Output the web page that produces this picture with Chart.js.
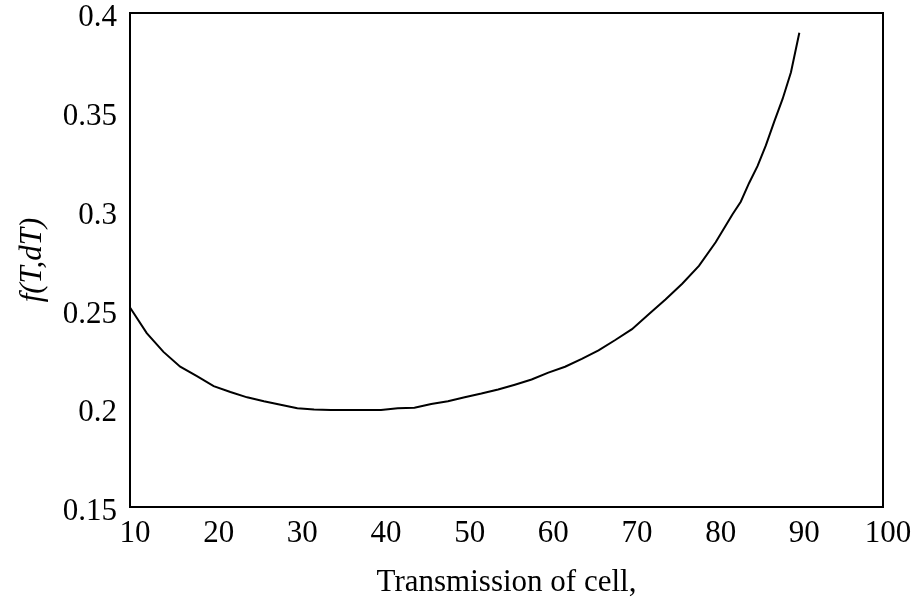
<!DOCTYPE html>
<html>
<head>
<meta charset="utf-8">
<script src="https://cdn.jsdelivr.net/npm/chart.js@4/dist/chart.umd.min.js"></script>
<style>
  html, body { margin: 0; padding: 0; background: #fff; }
  #wrap { width: 918px; height: 603px; }
</style>
</head>
<body>
<div id="wrap"><canvas id="chart" width="918" height="603"></canvas></div>
<script>
// transmission (%) and f(T,dT)
const transmission = [10, 12, 14, 16, 18, 20, 22, 24, 26, 28, 30, 32, 34, 36, 38, 40, 42, 44, 46, 48,
  50, 52, 54, 56, 58, 60, 62, 64, 66, 68, 70, 72, 74, 76, 78, 80, 82, 83, 84, 85, 86, 87, 88, 89, 90];
const fValues = [0.251, 0.238, 0.2285, 0.221, 0.2162, 0.2112, 0.2082, 0.2055, 0.2035, 0.2017,
  0.2000, 0.1994, 0.1991, 0.1991, 0.1991, 0.1991, 0.2000, 0.2002, 0.2021, 0.2035,
  0.2055, 0.2074, 0.2095, 0.2119, 0.2145, 0.2180, 0.2210, 0.2250, 0.2293, 0.2345,
  0.2400, 0.2475, 0.2550, 0.2630, 0.2720, 0.2840, 0.2980, 0.3045, 0.3140, 0.3225,
  0.3330, 0.3450, 0.3565, 0.3700, 0.3900];
const xTicks = [10, 20, 30, 40, 50, 60, 70, 80, 90, 100];
const yTicks = [0.15, 0.2, 0.25, 0.3, 0.35, 0.4];

const points = transmission.map((t, i) => ({ x: t, y: fValues[i] }));

// box around the plot area
const frame = {
  id: "frame",
  afterDraw(chart) {
    const { ctx, chartArea: a } = chart;
    ctx.save();
    ctx.strokeStyle = "#000";
    ctx.lineWidth = 2;
    ctx.strokeRect(a.left, a.top, a.right - a.left, a.bottom - a.top);
    ctx.restore();
  },
};

Chart.defaults.font.family = "'Liberation Serif', 'Times New Roman', serif";
Chart.defaults.color = "#000";

new Chart(document.getElementById("chart"), {
  type: "scatter",
  data: {
    datasets: [
      {
        data: points,
        showLine: true,
        borderColor: "#000",
        borderWidth: 2,
        pointRadius: 0,
        tension: 0,
      },
    ],
  },
  options: {
    responsive: false,
    animation: false,
    layout: { padding: { top: 13, right: 35, left: 0, bottom: 0 } },
    plugins: { legend: { display: false }, tooltip: { enabled: false } },
    scales: {
      x: {
        type: "linear",
        min: 10,
        max: 100,
        afterBuildTicks: (s) => { s.ticks = xTicks.map((v) => ({ value: v })); },
        afterFit: (s) => { s.height = 96; },
        grid: { display: false, drawTicks: false },
        border: { display: false },
        ticks: { font: { size: 31 }, padding: 8, labelOffset: 5, maxRotation: 0 },
        title: {
          display: true,
          text: "Transmission of cell,",
          font: { size: 31 },
          padding: { top: 0, bottom: 2 },
        },
      },
      y: {
        min: 0.15,
        max: 0.4,
        afterBuildTicks: (s) => { s.ticks = yTicks.map((v) => ({ value: v })); },
        afterFit: (s) => {
          s.width = 130;
          // no extra room for the end labels, plot top sits at the padding
          s.paddingTop = 0;
          s.paddingBottom = 0;
        },
        grid: { display: false, drawTicks: false },
        border: { display: false },
        ticks: {
          font: { size: 31 },
          padding: 13,
          labelOffset: 5,
          callback: (v) => String(Math.round(v * 100) / 100),
        },
        title: {
          display: true,
          text: "f(T,dT)",
          font: { size: 31, style: "italic" },
          padding: { top: 14, bottom: 0 },
        },
      },
    },
  },
  plugins: [frame],
});
</script>
</body>
</html>
